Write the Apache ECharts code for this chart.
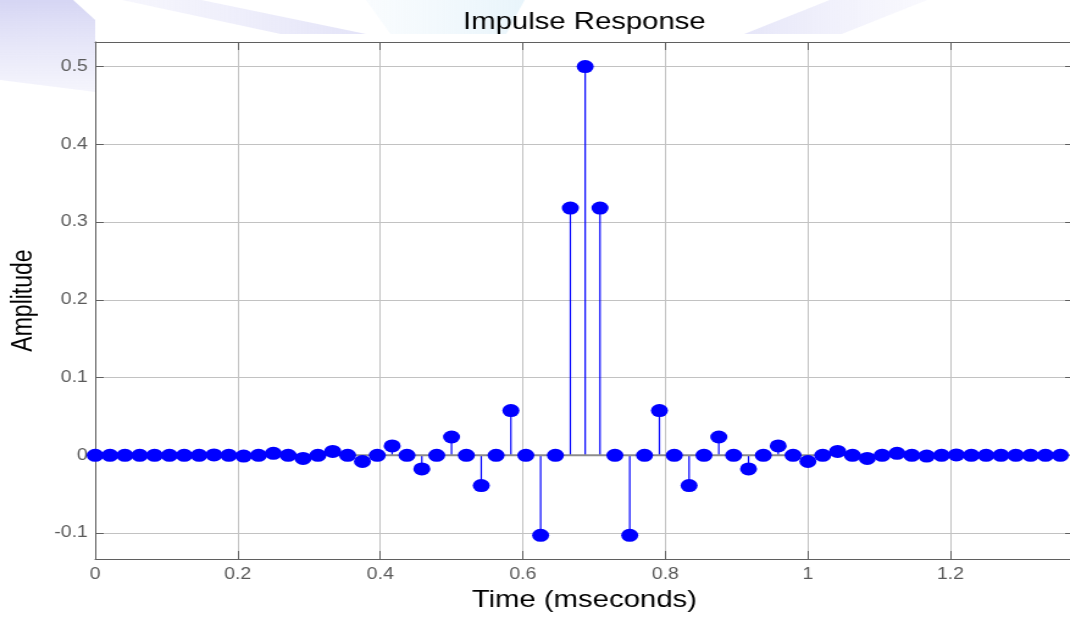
<!DOCTYPE html>
<html>
<head>
<meta charset="utf-8">
<script src="https://cdn.jsdelivr.net/npm/echarts@6/dist/echarts.min.js"></script>
<style>
html,body{margin:0;padding:0;background:#fff;overflow:hidden;}
#wrap{width:1070px;height:617px;overflow:hidden;position:relative;background:#fff;}
#chart{width:880px;height:617px;transform:scaleX(1.22);transform-origin:0 0;}
</style>
</head>
<body>
<div id="wrap"><div id="chart"></div></div>
<script>
// Sample times (milliseconds)
const times = [0, 0.0208, 0.0417, 0.0625, 0.0833, 0.1042, 0.125, 0.1458, 0.1667, 0.1875,
  0.2083, 0.2292, 0.25, 0.2708, 0.2917, 0.3125, 0.3333, 0.3542, 0.375, 0.3958,
  0.4167, 0.4375, 0.4583, 0.4792, 0.5, 0.5208, 0.5417, 0.5625, 0.5833, 0.6042,
  0.625, 0.6458, 0.6667, 0.6875, 0.7083, 0.7292, 0.75, 0.7708, 0.7917, 0.8125,
  0.8333, 0.8542, 0.875, 0.8958, 0.9167, 0.9375, 0.9583, 0.9792, 1, 1.0208,
  1.0417, 1.0625, 1.0833, 1.1042, 1.125, 1.1458, 1.1667, 1.1875, 1.2083, 1.2292,
  1.25, 1.2708, 1.2917, 1.3125, 1.3333, 1.3542];
// Impulse response amplitudes
const amplitude = [0, 0, 0, 0, 0, 0, 0, 0, 0.0005, 0,
  -0.001, 0, 0.0025, 0, -0.004, 0, 0.005, 0, -0.008, 0,
  0.012, 0, -0.0175, 0, 0.0235, 0, -0.039, 0, 0.0575, 0,
  -0.103, 0, 0.318, 0.5, 0.318, 0, -0.103, 0, 0.0575, 0,
  -0.039, 0, 0.0235, 0, -0.0175, 0, 0.012, 0, -0.008, 0,
  0.005, 0, -0.004, 0, 0.0025, 0, -0.001, 0, 0.0005, 0,
  0, 0, 0, 0, 0, 0];
const xTicks = [0, 0.2, 0.4, 0.6, 0.8, 1, 1.2];
const yTicks = [-0.1, 0, 0.1, 0.2, 0.3, 0.4, 0.5];
const xRange = [0, 1.3728];
const yRange = [-0.1334, 0.5316];

const points = times.map((t, i) => [t, amplitude[i]]);
const FONT = '"Liberation Sans", Arial, sans-serif';
const AXIS_COLOR = '#5f5f5f';
const LABEL_COLOR = '#5a5a5a';
const GRID_COLOR = '#c2c2c2';

const chart = echarts.init(document.getElementById('chart'), null, {renderer: 'canvas'});

function mainX() {
  return {
    type: 'value', position: 'bottom', min: xRange[0], max: xRange[1],
    axisLine: {show: true, onZero: false, lineStyle: {color: AXIS_COLOR, width: 1}},
    axisTick: {show: true, inside: true, length: 8, customValues: xTicks, lineStyle: {color: AXIS_COLOR}},
    axisLabel: {show: true, customValues: xTicks, margin: 8, color: LABEL_COLOR, fontSize: 16, fontFamily: FONT},
    splitLine: {show: true, lineStyle: {color: GRID_COLOR, width: 1}},
    name: 'Time (mseconds)', nameLocation: 'middle', nameGap: 29,
    nameTextStyle: {color: '#000', fontSize: 24, fontFamily: FONT}
  };
}
function topX() {
  return {
    type: 'value', position: 'top', min: xRange[0], max: xRange[1],
    axisLine: {show: true, onZero: false, lineStyle: {color: AXIS_COLOR, width: 1}},
    axisTick: {show: true, inside: true, length: 8, customValues: xTicks, lineStyle: {color: AXIS_COLOR}},
    axisLabel: {show: false},
    splitLine: {show: false}
  };
}
function mainY() {
  return {
    type: 'value', position: 'left', min: yRange[0], max: yRange[1],
    axisLine: {show: true, onZero: false, lineStyle: {color: AXIS_COLOR, width: 1}},
    axisTick: {show: true, inside: true, length: 7, customValues: yTicks, lineStyle: {color: AXIS_COLOR}},
    axisLabel: {show: true, customValues: yTicks, margin: 6, color: LABEL_COLOR, fontSize: 16, fontFamily: FONT},
    splitLine: {show: true, lineStyle: {color: GRID_COLOR, width: 1}},
    name: 'Amplitude', nameLocation: 'middle', nameGap: 47, nameRotate: 90,
    nameTextStyle: {color: '#000', fontSize: 23, fontFamily: FONT}
  };
}
function rightY() {
  return {
    type: 'value', position: 'right', min: yRange[0], max: yRange[1],
    axisLine: {show: true, onZero: false, lineStyle: {color: AXIS_COLOR, width: 1}},
    axisTick: {show: true, inside: true, length: 7, customValues: yTicks, lineStyle: {color: AXIS_COLOR}},
    axisLabel: {show: false},
    splitLine: {show: false}
  };
}

function fade(c0, c1, vertical) {
  return {type: 'linear', x: 0, y: 0, x2: vertical ? 0 : 1, y2: vertical ? 1 : 0,
    colorStops: [{offset: 0, color: c0}, {offset: 1, color: c1}]};
}

const option = {
  backgroundColor: 'transparent',
  animation: false,
  title: {
    text: 'Impulse Response', left: 479, top: 10, padding: 0, textAlign: 'center',
    textStyle: {color: '#000', fontSize: 24, fontWeight: 'normal', fontFamily: FONT}
  },
  graphic: [
    {type: 'polygon', z: -10, silent: true, shape: {points: [[0,0],[60,0],[78,20],[78,92],[0,80]]},
      style: {fill: fade('rgba(200,200,240,0.75)', 'rgba(215,215,245,0.25)', true)}},
    {type: 'polygon', z: -10, silent: true, shape: {points: [[100,0],[165,0],[300,34],[230,34]]},
      style: {fill: fade('rgba(220,220,247,0.25)', 'rgba(205,205,242,0.55)', false)}},
    {type: 'polygon', z: -10, silent: true, shape: {points: [[300,0],[430,0],[415,34],[320,34]]},
      style: {fill: fade('rgba(215,235,248,0.15)', 'rgba(205,232,246,0.45)', false)}},
    {type: 'polygon', z: -10, silent: true, shape: {points: [[610,34],[690,34],[760,0],[680,0]]},
      style: {fill: fade('rgba(205,205,242,0.5)', 'rgba(225,225,248,0.2)', false)}}
  ],
  grid: {left: 78, right: 0, top: 42, bottom: 58, show: true, backgroundColor: '#fff', borderWidth: 0},
  xAxis: [mainX(), topX()],
  yAxis: [mainY(), rightY()],
  series: [
    {
      type: 'custom', name: 'stems', xAxisIndex: 0, yAxisIndex: 0, z: 2, silent: true,
      data: points,
      renderItem: function (params, api) {
        const x = api.value(0), y = api.value(1);
        const p0 = api.coord([x, 0]);
        const p1 = api.coord([x, y]);
        return {type: 'line', shape: {x1: p0[0], y1: p0[1], x2: p1[0], y2: p1[1]},
          style: {stroke: '#0000ff', lineWidth: 1.2}};
      }
    },
    {
      type: 'line', name: 'baseline', xAxisIndex: 0, yAxisIndex: 0, z: 3, silent: true,
      data: [[xRange[0], 0], [xRange[1], 0]], showSymbol: false, symbol: 'none',
      lineStyle: {color: '#8c8c8c', width: 2}
    },
    {
      type: 'scatter', name: 'samples', xAxisIndex: 0, yAxisIndex: 0, z: 4, clip: false,
      data: points, symbol: 'circle', symbolSize: [14, 13],
      itemStyle: {color: '#0000ff', opacity: 1}
    }
  ]
};
chart.setOption(option);
</script>
</body>
</html>
